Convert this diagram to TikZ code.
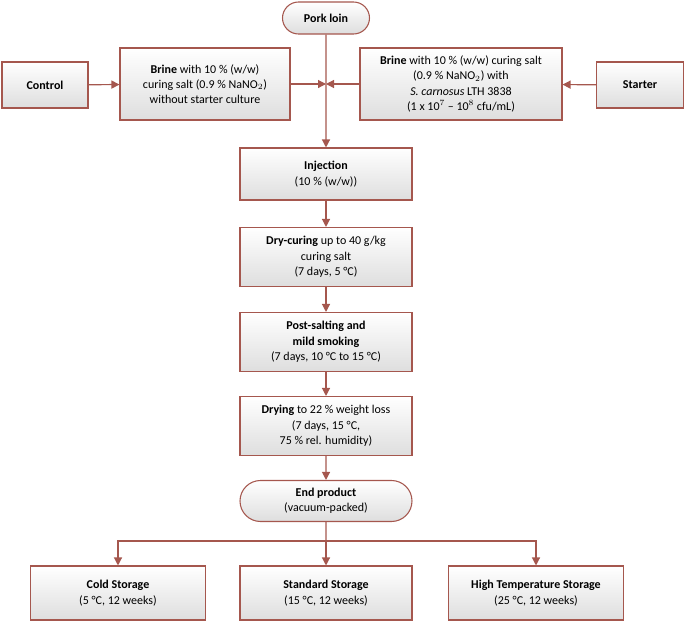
\documentclass[tikz,border=0pt]{standalone}
\usepackage{fontspec}
\setmainfont{Carlito}
\usetikzlibrary{arrows.meta,shapes.misc}
\definecolor{bd}{HTML}{A5574E}
\begin{document}
\begin{tikzpicture}[x=0.75pt,y=-0.75pt,
 box/.style={draw=bd,line width=0.8pt,top color=white,bottom color=black!13,align=center,font=\fontsize{9}{11.5}\selectfont,inner sep=0pt},
 rbox/.style={box,rounded rectangle},
 ln/.style={draw=bd,line width=0.9pt},
 ar/.style={ln,-{Triangle[length=6pt,width=6pt]}}]
\useasboundingbox (0,0) rectangle (685,625);
\node[rbox,minimum width=87*0.75pt,minimum height=32*0.75pt] (pork) at (326,18) {\textbf{Pork loin}};
\node[box,minimum width=86*0.75pt,minimum height=46*0.75pt] (ctrl) at (45,85) {\textbf{Control}};
\node[box,minimum width=170*0.75pt,minimum height=72*0.75pt] (bl) at (205,84) {\textbf{Brine} with 10 \% (w/w)\\curing salt (0.9 \% NaNO$_2$)\\without starter culture};
\node[box,minimum width=202*0.75pt,minimum height=72*0.75pt] (br) at (461,84) {\textbf{Brine} with 10 \% (w/w) curing salt\\(0.9 \% NaNO$_2$) with\\\textit{S. carnosus} LTH 3838\\(1 x 10$^7$ -- 10$^8$ cfu/mL)};
\node[box,minimum width=87*0.75pt,minimum height=46*0.75pt] (st) at (640,85) {\textbf{Starter}};
\node[box,minimum width=172*0.75pt,minimum height=52*0.75pt] (inj) at (326,174) {\textbf{Injection}\\(10 \% (w/w))};
\node[box,minimum width=172*0.75pt,minimum height=59*0.75pt] (dry) at (326,257) {\textbf{Dry-curing} up to 40 g/kg\\curing salt\\(7 days, 5 °C)};
\node[box,minimum width=172*0.75pt,minimum height=59*0.75pt] (post) at (326,342) {\textbf{Post-salting and}\\\textbf{mild smoking}\\(7 days, 10 °C to 15 °C)};
\node[box,minimum width=172*0.75pt,minimum height=59*0.75pt] (drying) at (326,426) {\textbf{Drying} to 22 \% weight loss\\(7 days, 15 °C,\\75 \% rel. humidity)};
\node[rbox,minimum width=172*0.75pt,minimum height=41*0.75pt] (end) at (326,501) {\textbf{End product}\\(vacuum-packed)};
\node[box,minimum width=175*0.75pt,minimum height=54*0.75pt] (cold) at (118,593) {\textbf{Cold Storage}\\(5 °C, 12 weeks)};
\node[box,minimum width=172*0.75pt,minimum height=54*0.75pt] (std) at (326,593) {\textbf{Standard Storage}\\(15 °C, 12 weeks)};
\node[box,minimum width=175*0.75pt,minimum height=54*0.75pt] (high) at (536,593) {\textbf{High Temperature Storage}\\(25 °C, 12 weeks)};
\coordinate (m) at (326,84);
\coordinate (h) at (326,541);
\draw[ar] (pork) -- (inj);
\draw[ar] (ctrl) -- (bl);
\draw[ar] (st) -- (br);
\draw[ar] (bl) -- (m);
\draw[ar] (br) -- (m);
\draw[ar] (inj) -- (dry);
\draw[ar] (dry) -- (post);
\draw[ar] (post) -- (drying);
\draw[ar] (drying) -- (end);
\draw[ln] (end) -- (h);
\draw[ar] (h) -| (cold);
\draw[ar] (h) -- (std);
\draw[ar] (h) -| (high);
\end{tikzpicture}
\end{document}
